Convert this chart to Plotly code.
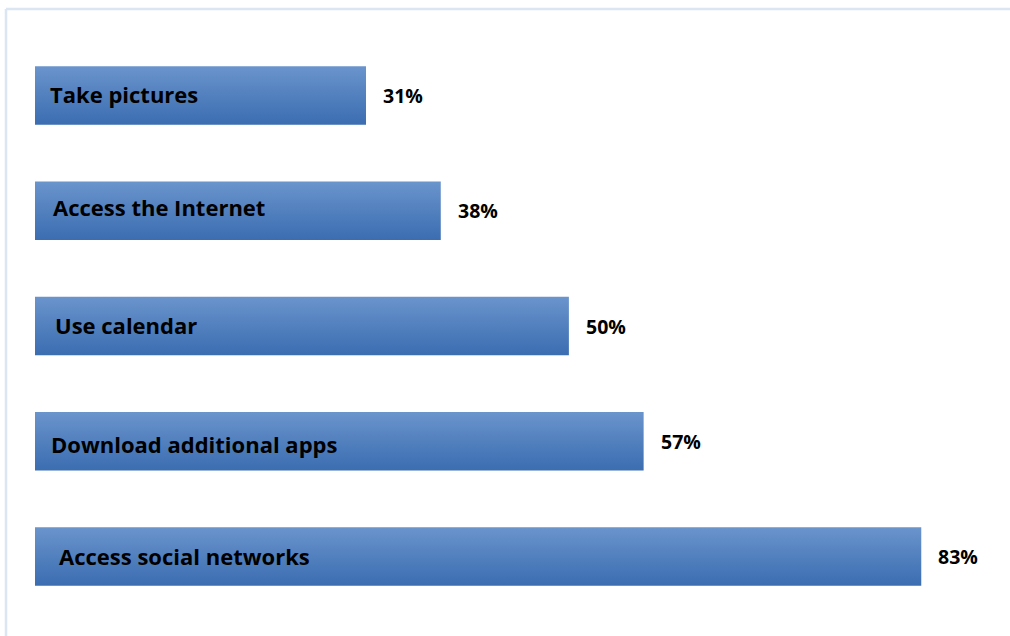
import plotly.graph_objects as go

categories = ["Take pictures", "Access the Internet", "Use calendar",
              "Download additional apps", "Access social networks"]
values = [31, 38, 50, 57, 83]
value_labels = ["31%", "38%", "50%", "57%", "83%"]

# label style offsets (pixels)
label_dx = [13, 16, 18, 14, 22]
label_dy = [2, 4, 1, -3, 0]

W, H = 1010, 636
ML, MR, MT, MB = 35, 14, 38, 22
XMAX = 90
BAR_HALF = 0.254

fig = go.Figure()
for i, (cat, v) in enumerate(zip(categories, values)):
    y0, y1 = i - BAR_HALF, i + BAR_HALF
    fig.add_trace(go.Scatter(
        x=[0, v, v, 0, 0],
        y=[y0, y0, y1, y1, y0],
        mode="lines",
        line=dict(width=0),
        fill="toself",
        fillgradient=dict(type="vertical",
                          colorscale=[[0, "#3B6DB1"], [1, "#6A94CC"]]),
        hoverinfo="skip",
        showlegend=False,
    ))
    fig.add_annotation(x=0, y=i, xref="x", yref="y", text=cat,
                       xanchor="left", yanchor="middle",
                       xshift=label_dx[i], yshift=label_dy[i], showarrow=False,
                       font=dict(family="Open Sans", size=22, color="black", weight=700))
    fig.add_annotation(x=v, y=i, xref="x", yref="y", text=value_labels[i],
                       xanchor="left", yanchor="middle",
                       xshift=15, yshift=0, showarrow=False,
                       font=dict(family="Open Sans", size=19.5, color="black", weight=700))

plot_w = W - ML - MR
plot_h = H - MT - MB
bx = (6 - ML) / plot_w
by = 1 + (MT - 9) / plot_h
fig.add_shape(type="line", xref="paper", yref="paper", x0=bx, x1=bx, y0=-0.2, y1=by,
              line=dict(color="#DCE6F2", width=2.5))
fig.add_shape(type="line", xref="paper", yref="paper", x0=bx, x1=1.2, y0=by, y1=by,
              line=dict(color="#DCE6F2", width=2.5))

fig.update_layout(
    width=W, height=H,
    margin=dict(l=ML, r=MR, t=MT, b=MB),
    paper_bgcolor="white", plot_bgcolor="white",
    xaxis=dict(range=[0, XMAX], visible=False, fixedrange=True),
    yaxis=dict(range=[4.5, -0.5], visible=False, fixedrange=True),
    showlegend=False,
)
fig.write_html("out.html")
